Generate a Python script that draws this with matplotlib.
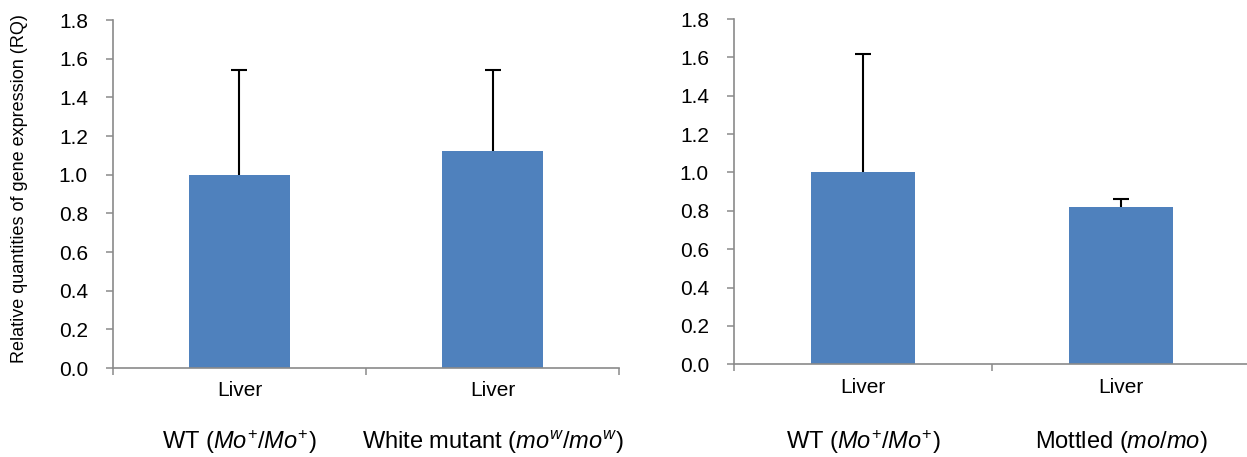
import numpy as np
import matplotlib
matplotlib.use("Agg")
import matplotlib.pyplot as plt

plt.rcParams['font.family'] = ['Liberation Sans', 'DejaVu Sans']
plt.rcParams['mathtext.fontset'] = 'custom'
plt.rcParams['mathtext.rm'] = 'Liberation Sans'
plt.rcParams['mathtext.it'] = 'Liberation Sans:italic'

# data
tissue = ['Liver', 'Liver']
left_groups = [r'WT ($\mathit{Mo}^{+}$/$\mathit{Mo}^{+}$)',
               r'White mutant ($\mathit{mo}^{w}$/$\mathit{mo}^{w}$)']
left_rq = [1.00, 1.12]
left_err = [0.54, 0.42]

right_groups = [r'WT ($\mathit{Mo}^{+}$/$\mathit{Mo}^{+}$)',
                r'Mottled ($\mathit{mo}$/$\mathit{mo}$)']
right_rq = [1.00, 0.82]
right_err = [0.62, 0.04]

bar_color = '#4F81BD'
axis_color = '#8A8A8A'

fig = plt.figure(figsize=(12.47, 4.57), dpi=100)
ax1 = fig.add_axes([0.0906, 0.1947, 0.4058, 0.7615])
ax2 = fig.add_axes([0.5886, 0.2028, 0.4138, 0.7556])


def draw(ax, vals, errs, groups):
    x = np.arange(len(vals)) + 0.5
    ax.bar(x, vals, width=0.4, color=bar_color, zorder=2)
    eb = ax.errorbar(x, vals, yerr=[np.zeros(len(errs)), errs], fmt='none',
                     ecolor='black', elinewidth=1.5, capsize=5.5, capthick=1.5, zorder=3)
    # only keep the upper caps
    eb[1][0].set_visible(False)
    ax.set_xlim(0, len(vals))
    ax.set_ylim(0, 1.8)
    ax.set_yticks(np.arange(0, 1.81, 0.2))
    ax.set_yticklabels([f'{v:.1f}' for v in np.arange(0, 1.81, 0.2)])
    ax.set_xticks(x)
    ax.set_xticklabels(tissue)
    ax.set_xticks(np.arange(len(vals) + 1), minor=True)
    ax.tick_params(axis='x', which='major', length=0, pad=9.5, labelsize=15)
    ax.tick_params(axis='x', which='minor', length=5, width=1.1, color=axis_color, direction='out')
    ax.tick_params(axis='y', length=5, width=1.1, color=axis_color, pad=13, labelsize=15)
    for s in ['top', 'right']:
        ax.spines[s].set_visible(False)
    for s in ['left', 'bottom']:
        ax.spines[s].set_color(axis_color)
        ax.spines[s].set_linewidth(1.2)
    for xi, g in zip(x, groups):
        ax.annotate(g, xy=(xi, 0.033), xycoords=('data', 'figure fraction'),
                    ha='center', va='center', fontsize=17, annotation_clip=False)


draw(ax1, left_rq, left_err, left_groups)
draw(ax2, right_rq, right_err, right_groups)

ax1.set_ylabel('Relative quantities of gene expression (RQ)', fontsize=13, va='center')
ax1.yaxis.set_label_coords(-0.184, 0.517)

fig.savefig('out.png', dpi=100)
